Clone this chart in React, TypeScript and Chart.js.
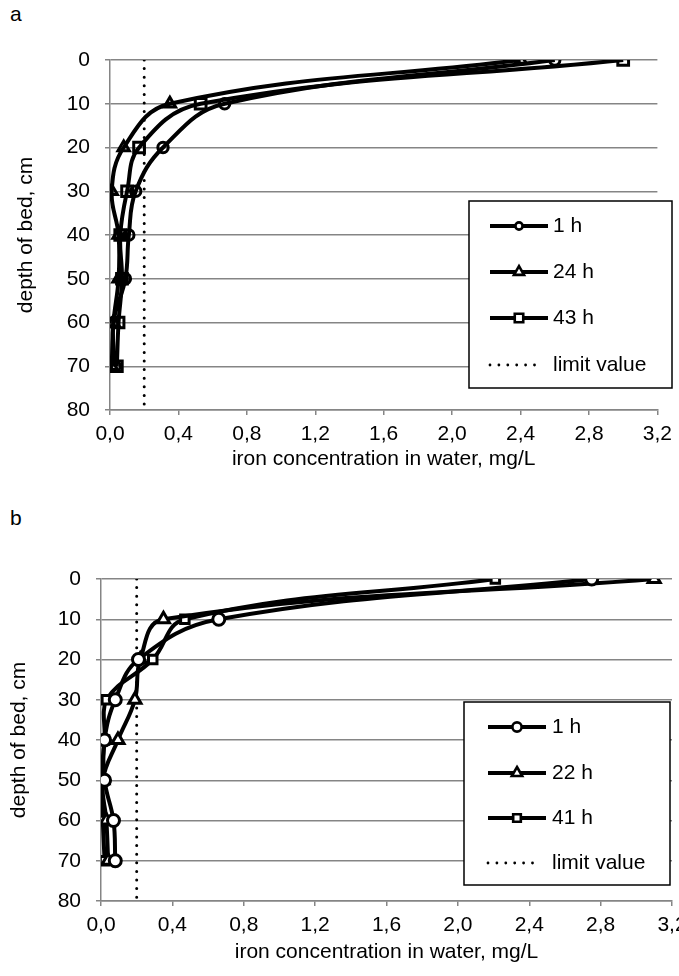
import React, { useEffect, useRef } from 'react';
import { Chart, registerables } from 'chart.js';

Chart.register(...registerables);

const FONT = "'Liberation Sans', Arial, sans-serif";

// ---------- data ----------
const depthCm = [0, 10, 20, 30, 40, 50, 60, 70];

const namesA = ['1 h', '24 h', '43 h'];
const ironA_1h = [2.6, 0.67, 0.31, 0.15, 0.11, 0.09, 0.02, 0.03];
const ironA_24h = [2.4, 0.35, 0.08, 0.01, 0.05, 0.05, 0.02, 0.01];
const ironA_43h = [3.0, 0.53, 0.17, 0.1, 0.06, 0.07, 0.05, 0.04];

const namesB = ['1 h', '22 h', '41 h'];
const ironB_1h = [2.75, 0.66, 0.21, 0.08, 0.02, 0.02, 0.07, 0.08];
const ironB_22h = [3.1, 0.35, 0.22, 0.19, 0.095, 0.01, 0.03, 0.04];
const ironB_41h = [2.21, 0.47, 0.29, 0.03, 0.02, 0.0, 0.01, 0.02];

const limitValue = 0.2;
const limitName = 'limit value';

const depthMin = 0;
const depthMax = 80;
const depthStep = 10;
const concMin = 0;
const concMax = 3.2;
const concStep = 0.4;

const xTitle = 'iron concentration in water, mg/L';
const yTitle = 'depth of bed, cm';
const markerShapes = ['circle', 'triangle', 'rect'];

// ---------- legend plugin ----------
function drawMarker(ctx: CanvasRenderingContext2D, shape: string, cx: number, cy: number, r: number) {
  ctx.beginPath();
  if (shape === 'circle') {
    ctx.arc(cx, cy, r, 0, Math.PI * 2);
  } else if (shape === 'triangle') {
    const w = r * Math.sin((2 * Math.PI) / 3);
    ctx.moveTo(cx, cy - r);
    ctx.lineTo(cx + w, cy + r / 2);
    ctx.lineTo(cx - w, cy + r / 2);
    ctx.closePath();
  } else {
    const s = Math.SQRT1_2 * r;
    ctx.rect(cx - s, cy - s, 2 * s, 2 * s);
  }
  ctx.fillStyle = '#fff';
  ctx.fill();
  ctx.stroke();
}

const boxLegendPlugin = {
  id: 'boxLegend',
  afterDraw(chart: any, _args: any, opts: any) {
    if (!opts || !opts.rows) return;
    const ctx: CanvasRenderingContext2D = chart.ctx;
    ctx.save();
    ctx.fillStyle = '#fff';
    ctx.fillRect(opts.x, opts.y, opts.w, opts.h);
    ctx.strokeStyle = '#000';
    ctx.lineWidth = 1.5;
    ctx.strokeRect(opts.x, opts.y, opts.w, opts.h);
    chart.data.datasets.forEach((ds: any, i: number) => {
      const y = opts.rows[i];
      ctx.strokeStyle = '#000';
      if (ds.pointRadius === 0) {
        ctx.setLineDash([0, 8.9]);
        ctx.lineCap = 'round';
        ctx.lineWidth = 2.8;
        ctx.beginPath();
        ctx.moveTo(opts.lineX1, y);
        ctx.lineTo(opts.dotX2, y);
        ctx.stroke();
        ctx.setLineDash([]);
        ctx.lineCap = 'butt';
      } else {
        ctx.lineWidth = 4;
        ctx.beginPath();
        ctx.moveTo(opts.lineX1, y);
        ctx.lineTo(opts.lineX2, y);
        ctx.stroke();
        ctx.lineWidth = 2.6;
        drawMarker(ctx, markerShapes[i], (opts.lineX1 + opts.lineX2) / 2, y, opts.markerR[i]);
      }
      ctx.fillStyle = '#000';
      ctx.font = `21px ${FONT}`;
      ctx.textBaseline = 'middle';
      ctx.textAlign = 'left';
      ctx.fillText(ds.label, opts.textX, y);
    });
    ctx.restore();
  },
};

// ---------- panel ----------
type PanelCfg = {
  names: string[];
  values: number[][];
  canvasW: number;
  canvasH: number;
  padTop: number;
  padRight: number;
  yAxisW: number;
  xAxisH: number;
  yTitlePad: number;
  xTickPad: number;
  xTitlePad: number;
  markerR: number[];
  markerFill: string;
  legend: any;
};

const GRID = '#858585';

function buildConfig(p: PanelCfg): any {
  const datasets: any[] = p.values.map((vals, i) => ({
    label: p.names[i],
    data: vals.map((v, j) => ({ x: v, y: depthCm[j] })),
    showLine: true,
    borderColor: '#000',
    borderWidth: 4,
    tension: 0.4,
    pointStyle: markerShapes[i],
    pointRadius: p.markerR[i],
    pointBorderWidth: 3,
    pointBorderColor: '#000',
    pointBackgroundColor: p.markerFill,
    fill: false,
  }));
  datasets.push({
    label: limitName,
    data: [
      { x: limitValue, y: depthMin },
      { x: limitValue, y: depthMax },
    ],
    showLine: true,
    borderColor: '#000',
    borderWidth: 3,
    borderDash: [0, 8.6],
    borderCapStyle: 'round',
    pointRadius: 0,
    tension: 0,
    fill: false,
  });

  return {
    type: 'scatter',
    data: { datasets },
    plugins: [boxLegendPlugin],
    options: {
      responsive: false,
      animation: false,
      events: [],
      layout: { padding: { top: p.padTop, right: p.padRight, left: 0, bottom: 0 } },
      plugins: {
        legend: { display: false },
        tooltip: { enabled: false },
        boxLegend: p.legend,
      },
      scales: {
        x: {
          type: 'linear',
          min: concMin,
          max: concMax,
          grid: { drawOnChartArea: false, drawTicks: true, tickLength: 5, color: GRID, lineWidth: 1.5 },
          border: { display: true, color: GRID, width: 1.5 },
          ticks: {
            stepSize: concStep,
            autoSkip: false,
            maxRotation: 0,
            padding: p.xTickPad,
            color: '#000',
            font: { family: FONT, size: 21 },
            callback: (v: any) => Number(v).toFixed(1).replace('.', ','),
          },
          title: {
            display: true,
            text: xTitle,
            color: '#000',
            font: { family: FONT, size: 21 },
            padding: { top: 0, bottom: p.xTitlePad },
          },
          afterFit: (s: any) => {
            s.height = p.xAxisH;
          },
        },
        y: {
          type: 'linear',
          reverse: true,
          min: depthMin,
          max: depthMax,
          grid: { drawOnChartArea: true, drawTicks: true, tickLength: 5, color: GRID, lineWidth: 1.5 },
          border: { display: true, color: GRID, width: 1.5 },
          ticks: {
            stepSize: depthStep,
            autoSkip: false,
            padding: 15,
            color: '#000',
            font: { family: FONT, size: 21 },
          },
          title: {
            display: true,
            text: yTitle,
            color: '#000',
            font: { family: FONT, size: 21 },
            padding: { top: p.yTitlePad, bottom: 0 },
          },
          afterFit: (s: any) => {
            s.width = p.yAxisW;
          },
        },
      },
    },
  };
}

function Panel({ cfg, top }: { cfg: PanelCfg; top: number }) {
  const ref = useRef<HTMLCanvasElement | null>(null);
  useEffect(() => {
    if (!ref.current) return;
    const chart = new Chart(ref.current, buildConfig(cfg));
    return () => chart.destroy();
  }, [cfg]);
  return (
    <canvas
      ref={ref}
      width={cfg.canvasW}
      height={cfg.canvasH}
      style={{ position: 'absolute', left: 0, top, width: cfg.canvasW, height: cfg.canvasH }}
    />
  );
}

const panelA: PanelCfg = {
  names: namesA,
  values: [ironA_1h, ironA_24h, ironA_43h],
  canvasW: 679,
  canvasH: 480,
  padTop: 60,
  padRight: 18,
  yAxisW: 110,
  xAxisH: 70,
  yTitlePad: 13.4,
  xTickPad: 7,
  xTitlePad: 8.4,
  markerR: [5.2, 6.6, 7.6],
  markerFill: 'rgba(255,255,255,0)',
  legend: {
    x: 469, y: 201, w: 203, h: 187,
    rows: [226, 272, 318, 365],
    lineX1: 490, lineX2: 548, dotX2: 543, textX: 553,
    markerR: [3.6, 5.8, 6.0],
  },
};

const panelB: PanelCfg = {
  names: namesB,
  values: [ironB_1h, ironB_22h, ironB_41h],
  canvasW: 700,
  canvasH: 476,
  padTop: 79,
  padRight: 28,
  yAxisW: 101,
  xAxisH: 75,
  yTitlePad: 6.4,
  xTickPad: 6.4,
  xTitlePad: 11.4,
  markerR: [6.0, 7.0, 6.0],
  markerFill: '#fff',
  legend: {
    x: 464, y: 202, w: 206, h: 183,
    rows: [227, 273, 318, 363],
    lineX1: 488, lineX2: 546, dotX2: 541, textX: 552,
    markerR: [4.6, 6.0, 5.4],
  },
};

const labelStyle: React.CSSProperties = {
  position: 'absolute',
  left: 10,
  fontFamily: FONT,
  fontSize: 21,
  lineHeight: '21px',
  color: '#000',
};

export default function App() {
  return (
    <div
      style={{
        position: 'fixed',
        left: 0,
        top: 0,
        width: 679,
        height: 976,
        overflow: 'hidden',
        background: '#fff',
      }}
    >
      <div style={{ ...labelStyle, top: 3 }}>a</div>
      <Panel cfg={panelA} top={0} />
      <div style={{ ...labelStyle, top: 507 }}>b</div>
      <Panel cfg={panelB} top={500} />
    </div>
  );
}
